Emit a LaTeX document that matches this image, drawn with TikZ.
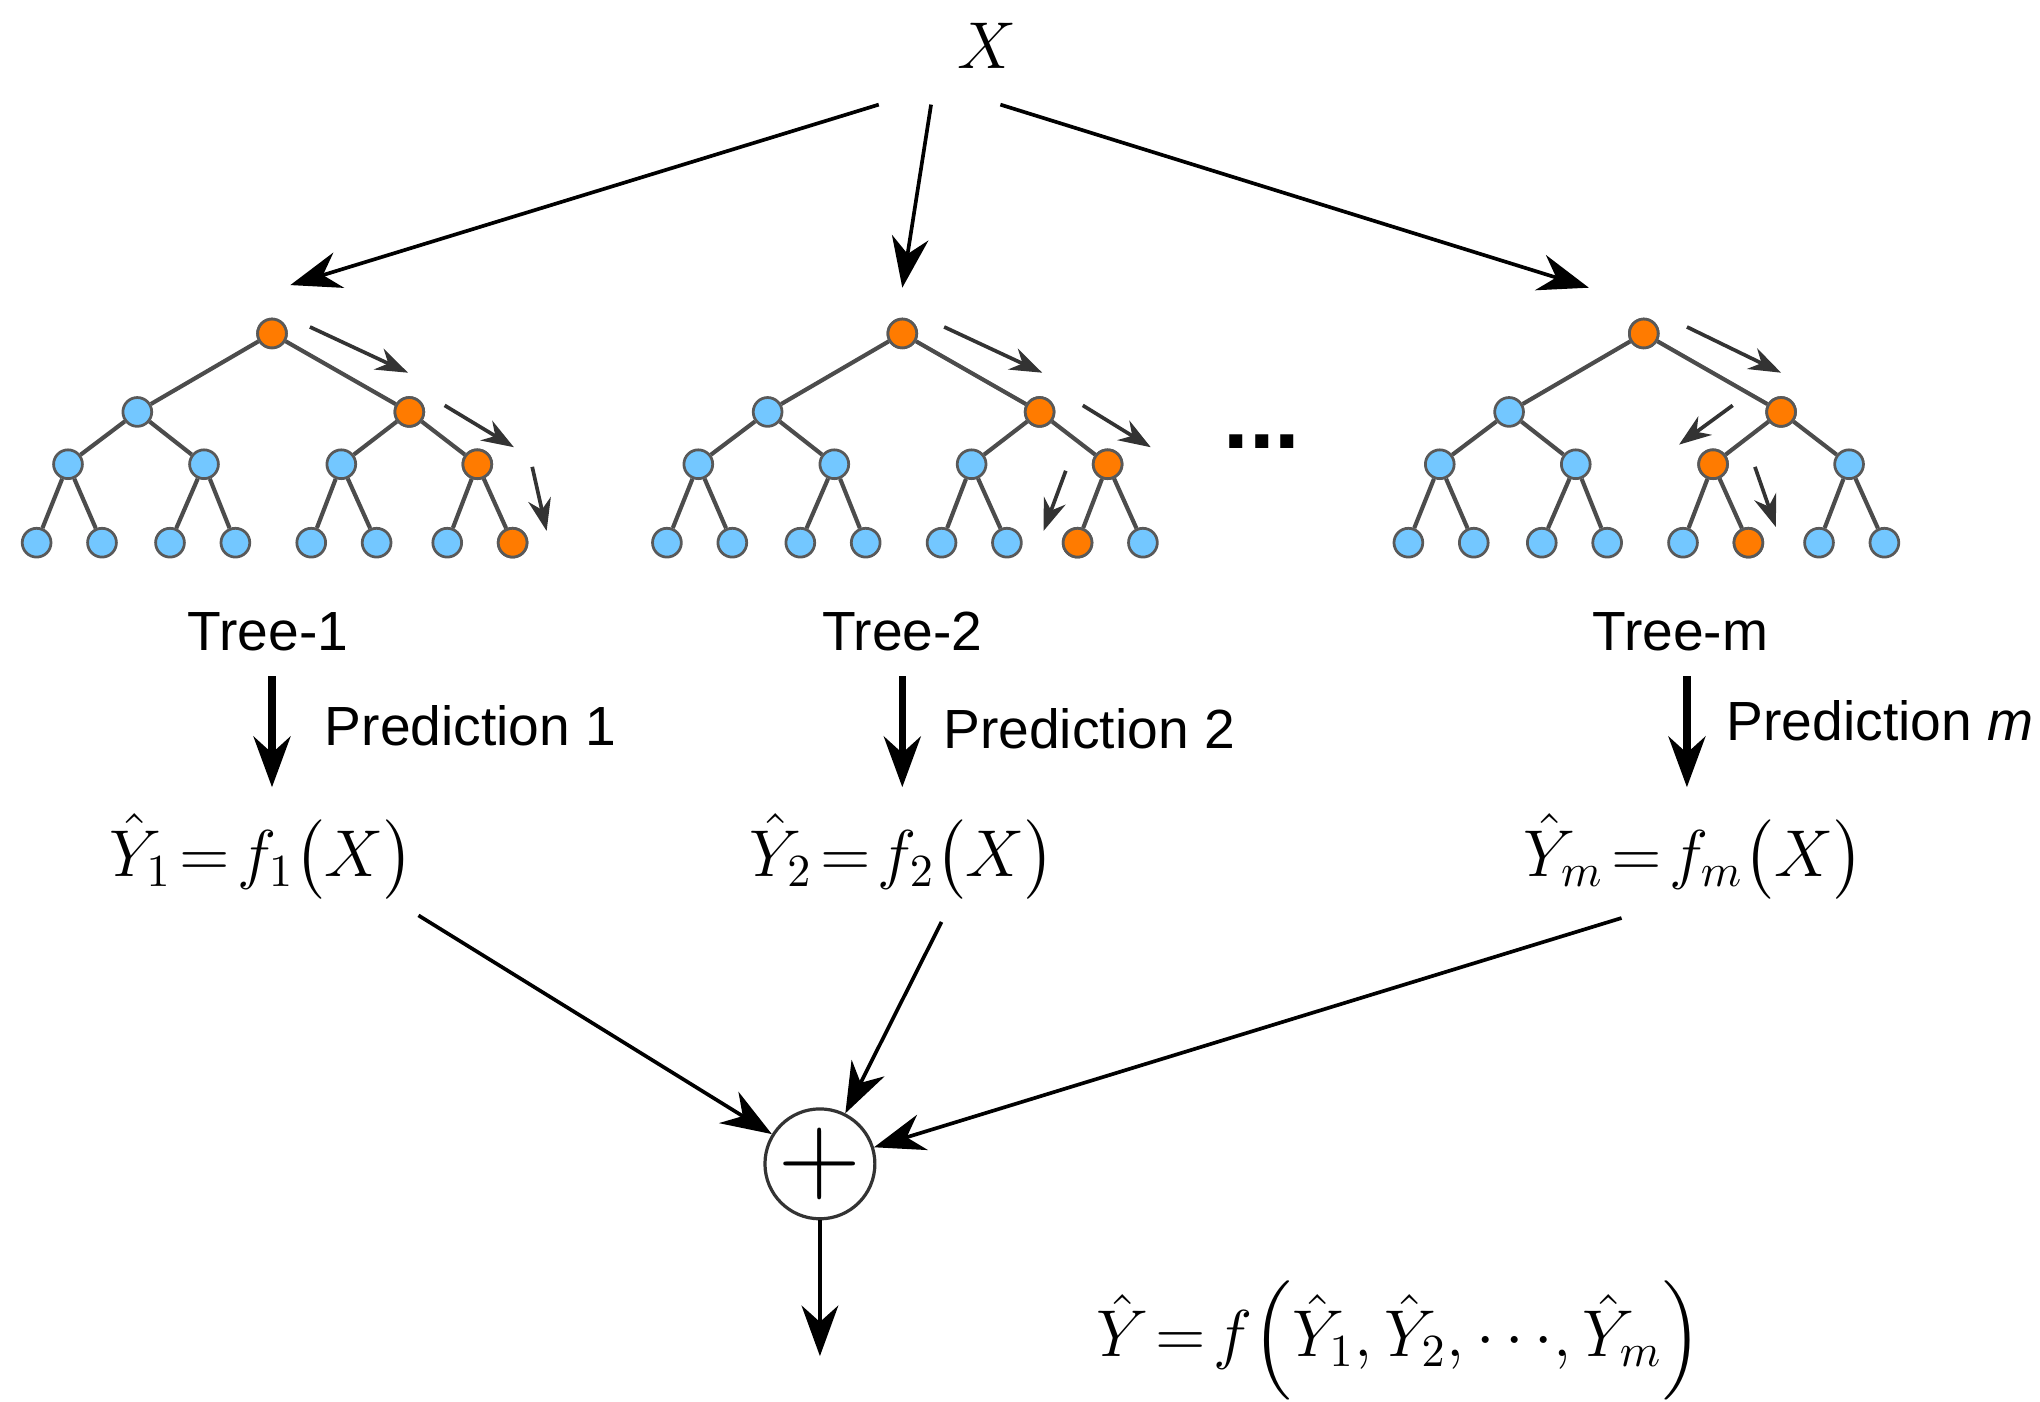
\documentclass[tikz,border=0pt]{standalone}
\usepackage{amsmath}
\usepackage{fontspec}
\setmainfont{Liberation Sans}
\usetikzlibrary{arrows.meta}
\begin{document}
\begin{tikzpicture}[x=0.01cm,y=0.01cm,
  tn/.style={circle,draw=black!65,line width=0.6pt,fill=blue!40!cyan!55!white,inner sep=0pt,minimum size=0.22cm},
  on/.style={tn,fill=orange!85!red!90!yellow},
  ed/.style={draw=black!70,line width=0.9pt},
  sa/.style={draw=black!80,line width=0.8pt,-{Stealth[length=7pt,width=5pt]}},
  ar/.style={draw=black,line width=0.8pt,-{Stealth[length=11pt,width=8pt]}},
  tk/.style={draw=black,line width=1.6pt,-{Stealth[length=11pt,width=8pt]}},
  lb/.style={font=\fontsize{12}{14}\selectfont},
  fm/.style={font=\fontsize{14}{17}\selectfont}]
\useasboundingbox (0,0) rectangle (1560,-1072);
\newcommand\mytree[2]{%
  \node[tn] (#1r) at (#2,-255) {};
  \node[tn] (#1a) at (#2-103,-315) {};
  \node[tn] (#1b) at (#2+105,-315) {};
  \node[tn] (#1aa) at (#2-156,-355) {};
  \node[tn] (#1ab) at (#2-52,-355) {};
  \node[tn] (#1ba) at (#2+53,-355) {};
  \node[tn] (#1bb) at (#2+157,-355) {};
  \node[tn] (#1aaa) at (#2-180,-415) {};
  \node[tn] (#1aab) at (#2-130,-415) {};
  \node[tn] (#1aba) at (#2-78,-415) {};
  \node[tn] (#1abb) at (#2-28,-415) {};
  \node[tn] (#1baa) at (#2+30,-415) {};
  \node[tn] (#1bab) at (#2+80,-415) {};
  \node[tn] (#1bba) at (#2+134,-415) {};
  \node[tn] (#1bbb) at (#2+184,-415) {};
  \foreach \p/\c in {r/a,r/b,a/aa,a/ab,b/ba,b/bb,aa/aaa,aa/aab,ab/aba,ab/abb,ba/baa,ba/bab,bb/bba,bb/bbb}
    \draw[ed] (#1\p) -- (#1\c);
}
% X
\node[fm] (X) at (755,-35) {$X$};
\coordinate (x1) at (672,-80); \coordinate (x2) at (712,-80); \coordinate (x3) at (765,-80);
\coordinate (t1in) at (222,-218); \coordinate (t2in) at (690,-220); \coordinate (t3in) at (1215,-220);
\draw[ar] (x1) -- (t1in);
\draw[ar] (x2) -- (t2in);
\draw[ar] (x3) -- (t3in);
% trees
\mytree{p}{208}
\mytree{q}{690}
\mytree{s}{1257}
\foreach \n in {r,b,bb,bbb} \node[on] (op\n) at (p\n) {};
\foreach \n in {r,b,bb,bba} \node[on] (oq\n) at (q\n) {};
\foreach \n in {r,b,ba,bab} \node[on] (os\n) at (s\n) {};
% path arrows
\coordinate (pa1) at (237,-250); \coordinate (pa2) at (312,-285);
\coordinate (pa3) at (340,-310); \coordinate (pa4) at (393,-342);
\coordinate (pa5) at (407,-357); \coordinate (pa6) at (418,-406);
\draw[sa] (pa1) -- (pa2); \draw[sa] (pa3) -- (pa4); \draw[sa] (pa5) -- (pa6);
\coordinate (qa1) at (722,-250); \coordinate (qa2) at (797,-285);
\coordinate (qa3) at (828,-310); \coordinate (qa4) at (880,-342);
\coordinate (qa5) at (815,-360); \coordinate (qa6) at (798,-406);
\draw[sa] (qa1) -- (qa2); \draw[sa] (qa3) -- (qa4); \draw[sa] (qa5) -- (qa6);
\coordinate (sa1) at (1290,-250); \coordinate (sa2) at (1362,-285);
\coordinate (sa3) at (1325,-310); \coordinate (sa4) at (1284,-340);
\coordinate (sa5) at (1342,-357); \coordinate (sa6) at (1358,-403);
\draw[sa] (sa1) -- (sa2); \draw[sa] (sa3) -- (sa4); \draw[sa] (sa5) -- (sa6);
\node[font=\fontsize{20}{20}\selectfont\bfseries] (dots) at (965,-338) {...};
% labels
\node[lb] (l1) at (205,-483) {Tree-1};
\node[lb] (l2) at (690,-483) {Tree-2};
\node[lb] (l3) at (1285,-483) {Tree-m};
\coordinate (d1a) at (208,-517); \coordinate (d1b) at (208,-602);
\coordinate (d2a) at (690,-517); \coordinate (d2b) at (690,-602);
\coordinate (d3a) at (1290,-517); \coordinate (d3b) at (1290,-602);
\draw[tk] (d1a) -- (d1b); \draw[tk] (d2a) -- (d2b); \draw[tk] (d3a) -- (d3b);
\node[lb,anchor=west] (pr1) at (236,-555) {Prediction 1};
\node[lb,anchor=west] (pr2) at (709,-557) {Prediction 2};
\node[lb,anchor=west] (pr3) at (1308,-551) {Prediction \textit{m}};
\node[fm] (y1) at (200,-655) {$\hat{Y}_1\!=\!f_1\big(X\big)$};
\node[fm] (y2) at (690,-655) {$\hat{Y}_2\!=\!f_2\big(X\big)$};
\node[fm] (y3) at (1295,-655) {$\hat{Y}_m\!=\!f_m\big(X\big)$};
% plus
\node[circle,draw=black!80,line width=0.7pt,minimum size=0.84cm,inner sep=0pt,font=\fontsize{24}{24}\selectfont] (plus) at (627,-890) {$+$};
\coordinate (c1) at (320,-700); \coordinate (c2) at (720,-705); \coordinate (c3) at (1240,-702);
\draw[ar] (c1) -- (plus);
\draw[ar] (c2) -- (plus);
\draw[ar] (c3) -- (plus);
\coordinate (out) at (627,-1037);
\draw[ar] (plus) -- (out);
\node[fm] (yf) at (1070,-1025) {$\hat{Y}\!=\!f\Big(\hat{Y}_1,\hat{Y}_2,\cdots\!,\hat{Y}_m\Big)$};
\end{tikzpicture}
\end{document}
